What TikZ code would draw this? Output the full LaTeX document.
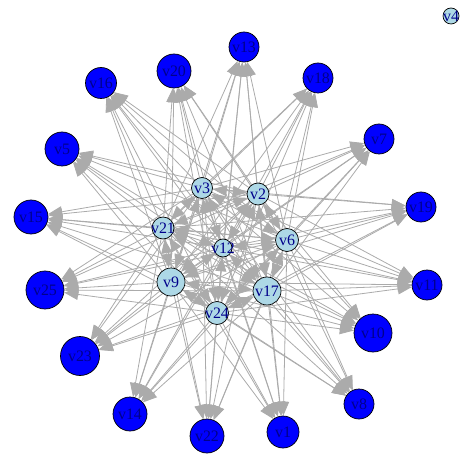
\documentclass[tikz,border=0pt]{standalone}
\usepackage{fontspec}
\setmainfont{Liberation Serif}
\usetikzlibrary{arrows.meta}
\pgfdeclarelayer{bg}
\pgfsetlayers{bg,main}
\definecolor{edgegray}{HTML}{ABABAB}
\definecolor{innerfill}{HTML}{ADD8E6}
\definecolor{outerfill}{HTML}{0000FF}
\definecolor{lblcol}{HTML}{00008B}
\tikzset{
  vtx/.style={circle, draw=black, line width=0.7bp, inner sep=0pt, minimum size=#1},
  inner/.style={vtx=#1, fill=innerfill},
  outer/.style={vtx=#1, fill=outerfill},
  lbl/.style={text=lblcol, font=\fontsize{16}{16}\selectfont, inner sep=0pt},
  edge/.style={draw=edgegray, line width=0.8bp, -{Triangle[length=14bp,width=11bp]}},
  bedge/.style={draw=edgegray, line width=0.8bp, {Triangle[length=14bp,width=11bp]}-{Triangle[length=14bp,width=11bp]}}
}
\begin{document}
\begin{tikzpicture}[x=1bp,y=-1bp]
\useasboundingbox (0,0) rectangle (473,457);
% inner vertices
\node[inner=21bp, label={[lbl]center:v3}]  (v3)  at (202,188) {};
\node[inner=22bp, label={[lbl]center:v2}]  (v2)  at (258,194) {};
\node[inner=22bp, label={[lbl]center:v21}] (v21) at (163,228) {};
\node[inner=18bp, label={[lbl]center:v12}] (v12) at (223,248) {};
\node[inner=23bp, label={[lbl]center:v6}]  (v6)  at (287,240) {};
\node[inner=28bp, label={[lbl]center:v9}]  (v9)  at (171,282) {};
\node[inner=28bp, label={[lbl]center:v17}] (v17) at (267,291) {};
\node[inner=23bp, label={[lbl]center:v24}] (v24) at (217,313) {};
% isolated
\node[inner=16bp, label={[lbl]center:v4}]  (v4)  at (451,16) {};
% outer vertices
\node[outer=30bp, label={[lbl]center:v13}] (v13) at (244,47) {};
\node[outer=34bp, label={[lbl]center:v20}] (v20) at (174,71) {};
\node[outer=31bp, label={[lbl]center:v16}] (v16) at (101,83) {};
\node[outer=30bp, label={[lbl]center:v18}] (v18) at (318,78) {};
\node[outer=30bp, label={[lbl]center:v7}]  (v7)  at (379,139) {};
\node[outer=34bp, label={[lbl]center:v5}]  (v5)  at (62,149) {};
\node[outer=30bp, label={[lbl]center:v19}] (v19) at (421,207) {};
\node[outer=34bp, label={[lbl]center:v15}] (v15) at (31,217) {};
\node[outer=30bp, label={[lbl]center:v11}] (v11) at (427,285) {};
\node[outer=38bp, label={[lbl]center:v25}] (v25) at (45,290) {};
\node[outer=38bp, label={[lbl]center:v10}] (v10) at (373,333) {};
\node[outer=39bp, label={[lbl]center:v23}] (v23) at (80,356) {};
\node[outer=30bp, label={[lbl]center:v8}]  (v8)  at (359,404) {};
\node[outer=34bp, label={[lbl]center:v14}] (v14) at (130,414) {};
\node[outer=34bp, label={[lbl]center:v22}] (v22) at (207,436) {};
\node[outer=32bp, label={[lbl]center:v1}]  (v1)  at (283,432) {};
\begin{pgfonlayer}{bg}
\foreach \s in {v3,v2,v21,v12,v6,v9,v17,v24}{
  \foreach \t in {v13,v20,v16,v18,v7,v5,v19,v15,v11,v25,v10,v23,v8,v14,v22,v1}{
    \draw[edge] (\s) -- (\t);
  }
}
\foreach \s/\t in {v3/v2,v3/v21,v3/v12,v3/v6,v3/v9,v3/v17,v3/v24,
                   v2/v21,v2/v12,v2/v6,v2/v9,v2/v17,v2/v24,
                   v21/v12,v21/v6,v21/v9,v21/v17,v21/v24,
                   v12/v6,v12/v9,v12/v17,v12/v24,
                   v6/v9,v6/v17,v6/v24,
                   v9/v17,v9/v24,
                   v17/v24}{
  \draw[bedge] (\s) -- (\t);
}
\end{pgfonlayer}
\end{tikzpicture}
\end{document}
